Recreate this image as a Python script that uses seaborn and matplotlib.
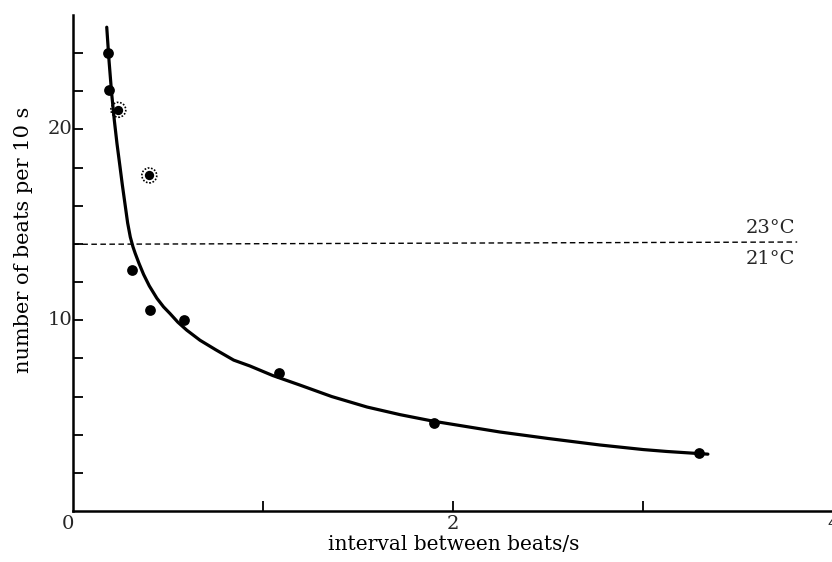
import matplotlib
matplotlib.use("Agg")
import matplotlib.pyplot as plt
import seaborn as sns
import pandas as pd

# measured points (interval between beats / s, beats per 10 s)
pts_x = [0.184, 0.189, 0.307, 0.404, 0.584, 1.083, 1.898, 3.293]
pts_y = [24.02, 22.08, 12.62, 10.52, 10.00, 7.24, 4.59, 3.04]
# circled (anomalous) points
circ_x = [0.237, 0.400]
circ_y = [21.03, 17.59]
# fitted curve
curve_x = [0.176, 0.188, 0.202, 0.216, 0.230, 0.246, 0.258, 0.272, 0.286, 0.300,
           0.314, 0.326, 0.345, 0.370, 0.400, 0.440, 0.475, 0.509, 0.550, 0.597,
           0.667, 0.750, 0.844, 0.930, 1.050, 1.193, 1.360, 1.546, 1.720, 1.893,
           2.246, 2.500, 2.772, 3.000, 3.124, 3.340]
curve_y = [25.36, 23.61, 21.87, 20.47, 19.25, 18.03, 17.10, 16.10, 15.10, 14.36,
           13.85, 13.50, 13.00, 12.40, 11.80, 11.15, 10.70, 10.35, 9.90, 9.48,
           8.95, 8.45, 7.91, 7.60, 7.10, 6.60, 6.00, 5.45, 5.05, 4.71,
           4.14, 3.80, 3.46, 3.22, 3.12, 2.98]
# temperature boundary line
temp_x = [0.0, 3.81]
temp_y = [13.98, 14.10]
temp_labels = ["23°C", "21°C"]

xticks = [1, 2, 3]
xlabels_pos = [0, 2, 4]
yticks = [2, 4, 6, 8, 10, 12, 14, 16, 18, 20, 22, 24]
ylabel_pos = [10, 20]

sns.set_theme(style="white")
plt.rcParams["font.family"] = ["DejaVu Serif"]

fig = plt.figure(figsize=(8.32, 5.62), dpi=100)
ax = fig.add_axes([73.3 / 832, 51 / 562, 760 / 832, 496 / 562])

df_curve = pd.DataFrame({"x": curve_x, "y": curve_y})
sns.lineplot(data=df_curve, x="x", y="y", sort=False, estimator=None,
             color="black", lw=2.3, ax=ax)
df_pts = pd.DataFrame({"x": pts_x, "y": pts_y})
sns.scatterplot(data=df_pts, x="x", y="y", color="black", s=60,
                edgecolor="black", linewidth=0, ax=ax, zorder=5)
df_c = pd.DataFrame({"x": circ_x, "y": circ_y})
sns.scatterplot(data=df_c, x="x", y="y", color="black", s=45,
                edgecolor="black", linewidth=0, ax=ax, zorder=5)
ax.scatter(circ_x, circ_y, s=115, facecolors="none", edgecolors="black",
           linewidths=1.2, linestyles=(0, (1, 1)), zorder=5)

ax.plot(temp_x, temp_y, color="black", lw=1.0, dashes=(4, 2.5))
ax.text(3.67, 14.85, temp_labels[0], ha="center", va="center", fontsize=14)
ax.text(3.67, 13.2, temp_labels[1], ha="center", va="center", fontsize=14)

ax.set_xlim(0, 4)
ax.set_ylim(0, 26)
for s in ["top", "right"]:
    ax.spines[s].set_visible(False)
for s in ["left", "bottom"]:
    ax.spines[s].set_color("black")
    ax.spines[s].set_linewidth(1.8)

ax.set_xticks(xticks)
ax.set_xticklabels([])
ax.set_yticks(yticks)
ax.set_yticklabels([])
ax.tick_params(axis="both", direction="in", length=7, width=1.3, color="black",
               left=True, bottom=True)

for v in xlabels_pos:
    ax.text(v - (0.03 if v == 0 else 0), -0.2, str(v), ha="center", va="top",
            fontsize=14, clip_on=False)
for v in ylabel_pos:
    ax.text(-0.005, v, str(v), ha="right", va="center", fontsize=14,
            clip_on=False)

ax.set_xlabel("interval between beats/s", fontsize=14.5, color="black")
ax.xaxis.set_label_coords(0.5, -0.0685)
ax.xaxis.label.set_va("center")
ax.set_ylabel("number of beats per 10 s", fontsize=15, color="black")
ax.yaxis.set_label_coords(-0.065, 0.546)
ax.yaxis.label.set_va("center")
ax.grid(False)

fig.savefig("out.png", dpi=100)
